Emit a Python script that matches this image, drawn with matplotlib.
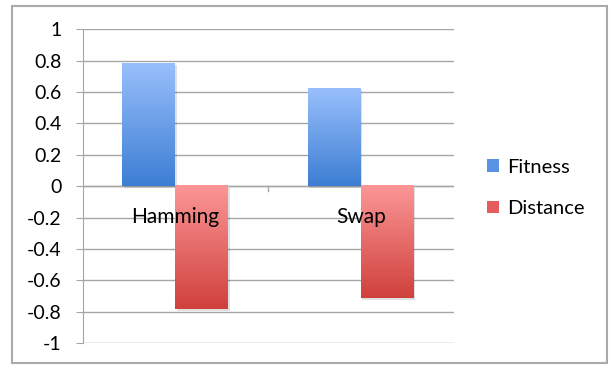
import matplotlib
matplotlib.use('Agg')
import matplotlib.pyplot as plt
import numpy as np
from matplotlib.patches import Rectangle
from matplotlib.colors import LinearSegmentedColormap

categories = ['Hamming', 'Swap']
fitness = [0.783, 0.624]
distance = [-0.785, -0.716]
series_names = ['Fitness', 'Distance']
yticks = [1, 0.8, 0.6, 0.4, 0.2, 0, -0.2, -0.4, -0.6, -0.8, -1]

plt.rcParams['font.family'] = ['Lato', 'DejaVu Sans']

blue_top, blue_bot = '#98BFFB', '#3D7ED4'
red_top, red_bot = '#FB9696', '#D0413D'

fig = plt.figure(figsize=(6.09, 3.65), dpi=100)
ax = fig.add_axes([0.1358, 0.0603, 0.609, 0.8594])

# outer chart border
fig.patches.append(Rectangle((12 / 609, 2 / 365), 595 / 609, 357 / 365,
                             transform=fig.transFigure, fill=False,
                             edgecolor='#AAAAAA', linewidth=1.5))

x = np.arange(len(categories))
w = 1 / 3.5
b1 = ax.bar(x - w / 2, fitness, w, color='none', zorder=3)
b2 = ax.bar(x + w / 2, distance, w, color='none', zorder=3)

grad = np.linspace(0, 1, 100).reshape(-1, 1)
for bars, top, bot in [(b1, blue_top, blue_bot), (b2, red_top, red_bot)]:
    cmap = LinearSegmentedColormap.from_list('g', [top, bot])
    for p in bars:
        x0, y0 = p.get_x(), p.get_y()
        x1, y1 = x0 + p.get_width(), y0 + p.get_height()
        lo, hi = min(y0, y1), max(y0, y1)
        # soft shadow
        ax.add_patch(Rectangle((x0 + 0.008, lo - 0.012), x1 - x0, hi - lo,
                               color='#000000', alpha=0.12, zorder=2, lw=0))
        ax.imshow(grad, cmap=cmap, aspect='auto', extent=(x0, x1, lo, hi),
                  zorder=3, interpolation='bilinear')

ax.set_xlim(-0.5, 1.5)
ax.set_ylim(-1, 1)
ax.set_yticks(yticks)
ax.set_yticklabels([('%g' % t) for t in yticks], fontsize=14)
ax.yaxis.grid(True, color='#A6A6A6', linewidth=1.0, zorder=0)
ax.set_axisbelow(True)
ax.tick_params(axis='y', length=5, color='#A6A6A6', pad=10)
ax.set_xticks([0.5])
ax.set_xticklabels([])
ax.tick_params(axis='x', length=0)
for s in ['top', 'right', 'bottom']:
    ax.spines[s].set_visible(False)
ax.spines['left'].set_color('#A6A6A6')
ax.axhline(0, color='#A6A6A6', linewidth=1.0, zorder=1)
ax.plot([0.5, 0.5], [0, -0.03], color='#A6A6A6', lw=1, zorder=1)

for i, c in enumerate(categories):
    ax.annotate(c, (i, 0), xytext=(0, -22.5), textcoords='offset points',
                ha='center', va='center', fontsize=15, zorder=5)

handles = [Rectangle((0, 0), 1, 1, facecolor='#5B93E4'),
           Rectangle((0, 0), 1, 1, facecolor='#E25D5B')]
fig.legend(handles, series_names, loc='center left',
           bbox_to_anchor=(0.77, 0.485), frameon=False, fontsize=14.5,
           handlelength=0.6, handleheight=0.6, handletextpad=0.4,
           labelspacing=1.2)

fig.savefig('out.png', dpi=100)
